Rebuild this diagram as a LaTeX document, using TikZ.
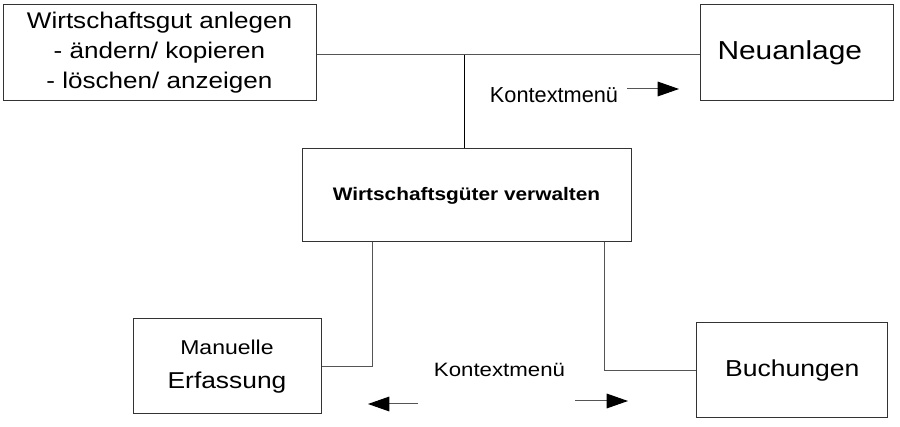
\documentclass[tikz,border=0pt]{standalone}
\usepackage{fontspec}
\setmainfont[FakeStretch=1.15]{Liberation Sans}
\usetikzlibrary{calc,arrows.meta}

\definecolor{rand}{HTML}{333333}
\definecolor{linie}{HTML}{555555}

\begin{document}
\begin{tikzpicture}[x=0.75pt,y=-0.75pt,
  box/.style={draw=rand,line width=0.75pt,inner sep=0pt,align=center},
  verb/.style={draw=linie,line width=0.75pt},
  pfeil/.style={verb,-{Triangle[length=16pt,width=11pt,color=black]}}]
  \useasboundingbox (0,0) rectangle (900,427);

  \node [box,minimum width=313*0.75pt,minimum height=96*0.75pt,
         font=\fontsize{17pt}{22.5pt}\selectfont] (gut) at (159.5,53)
        {Wirtschaftsgut anlegen\\- ändern/ kopieren\\- löschen/ anzeigen};
  \node [box,minimum width=193*0.75pt,minimum height=96*0.75pt,
         font=\fontsize{19.5pt}{24pt}\selectfont] (neu) at (796.5,53) {Neuanlage\hspace{10pt}};
  \node [box,minimum width=329*0.75pt,minimum height=93*0.75pt,
         font=\fontsize{13.6pt}{16pt}\selectfont\bfseries] (verw) at (466.5,195.5)
        {Wirtschaftsgüter verwalten};
  \node [box,minimum width=188*0.75pt,minimum height=95*0.75pt,
         font=\fontsize{15pt}{24pt}\selectfont] (man) at (227,366.5)
        {Manuelle\\[1pt]{\fontsize{17.2pt}{24pt}\selectfont Erfassung}};
  \node [box,minimum width=191*0.75pt,minimum height=95*0.75pt,
         font=\fontsize{17.3pt}{22pt}\selectfont] (buch) at (792.2,370.3) {Buchungen};

  \node [font=\fontsize{16.3pt}{19pt}\selectfont\addfontfeature{FakeStretch=1}] (kt1) at (554,95) {Kontextmenü};
  \node [font=\fontsize{14.5pt}{17pt}\selectfont] (kt2) at (499.5,370) {Kontextmenü};

  \coordinate (top) at (464,55);
  \draw [verb] (gut.east |- top) -- (neu.west |- top);
  \draw [verb,draw=black] (top) -- (top |- verw.north);
  \draw [verb] (man.east) -| ($(verw.south)+(-94.5,0)$);
  \draw [verb] (buch.west) -| ($(verw.south)+(137.5,0)$);

  \coordinate (p1) at (627,89);
  \coordinate (p2) at (679,89);
  \coordinate (p3) at (418,404);
  \coordinate (p4) at (368,404);
  \coordinate (p5) at (575,401);
  \coordinate (p6) at (628,401);
  \draw [pfeil] (p1) -- (p2);
  \draw [pfeil] (p3) -- (p4);
  \draw [pfeil] (p5) -- (p6);
\end{tikzpicture}
\end{document}
